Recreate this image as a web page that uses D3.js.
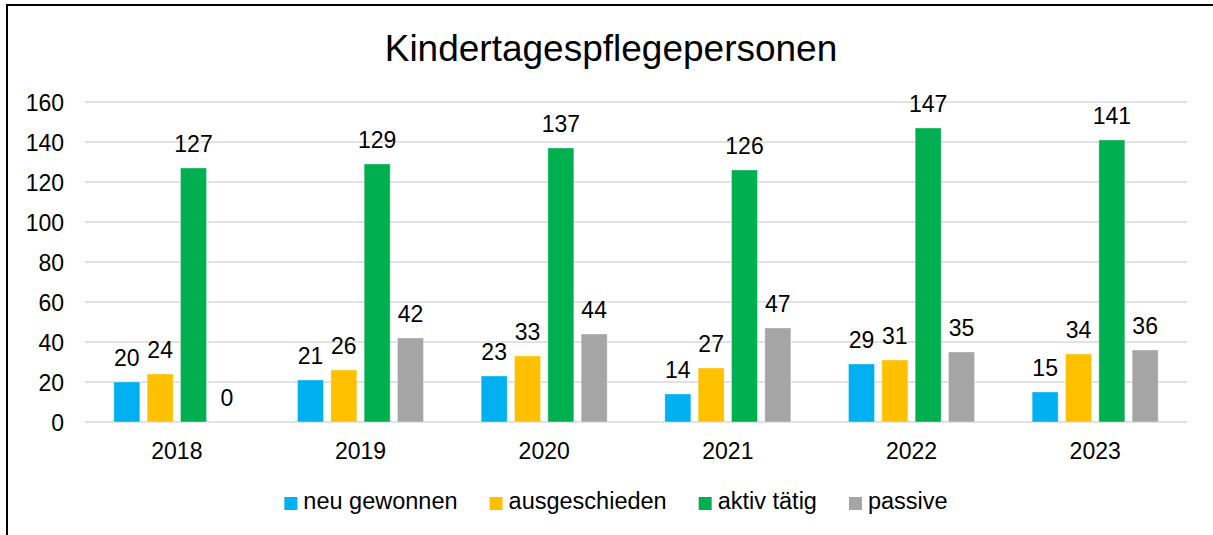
<!DOCTYPE html>
<html>
<head>
<meta charset="utf-8">
<script src="https://cdn.jsdelivr.net/npm/d3@7"></script>
<style>
  html, body { margin: 0; padding: 0; background: #fff; }
  svg { display: block; font-family: "Liberation Sans", Arial, sans-serif; }
</style>
</head>
<body>
<svg id="chart" width="1213" height="535"></svg>
<script>
// Kindertagespflegepersonen per year
const years = ["2018", "2019", "2020", "2021", "2022", "2023"];
const seriesNames = ["neu gewonnen", "ausgeschieden", "aktiv tätig", "passive"];
const neuGewonnen = [20, 21, 23, 14, 29, 15];
const ausgeschieden = [24, 26, 33, 27, 31, 34];
const aktivTaetig = [127, 129, 137, 126, 147, 141];
const passive = [0, 42, 44, 47, 35, 36];
const yTicks = [0, 20, 40, 60, 80, 100, 120, 140, 160];
const colors = ["#00B0F0", "#FFC000", "#00B050", "#A5A5A5"];

const seriesValues = [neuGewonnen, ausgeschieden, aktivTaetig, passive];
const rows = years.map((yr, i) => ({
  year: yr,
  values: seriesNames.map((s, k) => ({ series: s, k, value: seriesValues[k][i] }))
}));

const svg = d3.select("#chart");
const W = 1213, H = 535;
const plot = { left: 85, right: 1187, top: 102, bottom: 422 };

// outer frame
svg.append("rect")
  .attr("x", 7).attr("y", 5)
  .attr("width", W).attr("height", H)
  .attr("fill", "#fff").attr("stroke", "#000").attr("stroke-width", 2);

// title
svg.append("text")
  .attr("x", 611).attr("y", 61)
  .attr("text-anchor", "middle")
  .attr("font-size", 37)
  .attr("fill", "#000")
  .text("Kindertagespflegepersonen");

const x0 = d3.scaleBand()
  .domain(years)
  .range([plot.left, plot.right])
  .paddingInner(0.314)
  .paddingOuter(0.157);

const x1 = d3.scaleBand()
  .domain(seriesNames)
  .range([0, x0.bandwidth()])
  .paddingInner(0.22)
  .paddingOuter(0);

const y = d3.scaleLinear()
  .domain([0, 160])
  .range([plot.bottom, plot.top]);

// gridlines
svg.append("g")
  .selectAll("line")
  .data(yTicks)
  .join("line")
  .attr("x1", plot.left).attr("x2", plot.right)
  .attr("y1", d => y(d)).attr("y2", d => y(d))
  .attr("stroke", "#d9d9d9").attr("stroke-width", 1.5);

// y axis labels
const yAxis = d3.axisLeft(y).tickValues(yTicks).tickSize(0).tickPadding(0);
const gy = svg.append("g")
  .attr("transform", `translate(64,0)`)
  .call(yAxis);
gy.select(".domain").remove();
gy.selectAll("text")
  .attr("font-size", 23)
  .attr("font-family", "Liberation Sans, Arial, sans-serif")
  .attr("fill", "#000")
  .attr("dy", "0.35em");

// x axis labels
const xAxis = d3.axisBottom(x0).tickSize(0).tickPadding(0);
const gx = svg.append("g")
  .attr("transform", `translate(0,${plot.bottom})`)
  .call(xAxis);
gx.select(".domain").remove();
gx.selectAll("text")
  .attr("font-size", 23)
  .attr("font-family", "Liberation Sans, Arial, sans-serif")
  .attr("fill", "#000")
  .attr("dy", 0)
  .attr("y", 37);

// bars
const groups = svg.append("g")
  .selectAll("g")
  .data(rows)
  .join("g")
  .attr("transform", d => `translate(${x0(d.year)},0)`);

groups.selectAll("rect")
  .data(d => d.values)
  .join("rect")
  .attr("x", d => x1(d.series))
  .attr("width", x1.bandwidth())
  .attr("y", d => y(d.value))
  .attr("height", d => y(0) - y(d.value))
  .attr("fill", d => colors[d.k])
  .attr("stroke", "rgba(255,255,255,0.35)")
  .attr("stroke-width", 1);

// value labels
groups.selectAll("text")
  .data(d => d.values)
  .join("text")
  .attr("x", d => x1(d.series) + x1.bandwidth() / 2)
  .attr("y", d => y(d.value) - 16)
  .attr("text-anchor", "middle")
  .attr("font-size", 23)
  .attr("fill", "#000")
  .text(d => d.value);

// legend
const legend = svg.append("g");
const items = legend.selectAll("g")
  .data(seriesNames)
  .join("g");
items.append("rect")
  .attr("width", 13).attr("height", 13)
  .attr("y", -12)
  .attr("fill", (d, i) => colors[i]);
items.append("text")
  .attr("x", 19)
  .attr("font-size", 23.5)
  .attr("fill", "#000")
  .text(d => d);

let offset = 0;
items.each(function () {
  const g = d3.select(this);
  g.attr("transform", `translate(${offset},0)`);
  const tw = g.select("text").node().getComputedTextLength();
  offset += 19 + tw + 32;
});
const legendWidth = offset - 32;
legend.attr("transform", `translate(${616 - legendWidth / 2},509)`);
</script>
</body>
</html>
